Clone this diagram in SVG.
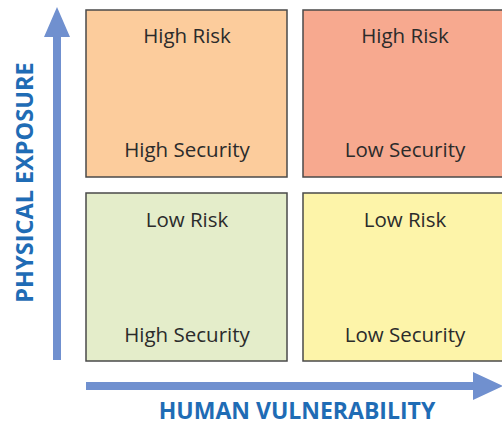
<svg xmlns="http://www.w3.org/2000/svg" width="502" height="425" viewBox="0 0 502 425">
<style>
.cell{stroke:#4a4a4a;stroke-width:1.5}
.t{font-family:"Open Sans","Noto Sans",sans-serif;font-size:20.5px;fill:#2b2b2b;text-anchor:middle}
.ax{font-family:"Open Sans","Noto Sans",sans-serif;font-weight:bold;fill:#1f6cb5;text-anchor:middle}
.arrow{fill:#7090cf}
</style>
<rect width="502" height="425" fill="#fff"/>
<g id="connectors">
<path class="arrow" d="M53,360 L53,37 L44,37 L57,7 L70,37 L61,37 L61,360 Z"/>
<path class="arrow" d="M86,382 L473,382 L473,372 L503,386 L473,400 L473,390 L86,390 Z"/>
</g>
<g id="cell-hh">
<rect class="cell" x="86" y="10" width="201" height="167" fill="#fccc9c"/>
<text class="t" x="187" y="43">High Risk</text>
<text class="t" x="187" y="157">High Security</text>
</g>
<g id="cell-hl">
<rect class="cell" x="303" y="10" width="204" height="167" fill="#f7a98f"/>
<text class="t" x="405" y="43">High Risk</text>
<text class="t" x="405" y="157">Low Security</text>
</g>
<g id="cell-lh">
<rect class="cell" x="86" y="193" width="201" height="168" fill="#e4edca"/>
<text class="t" x="187" y="227">Low Risk</text>
<text class="t" x="187" y="342">High Security</text>
</g>
<g id="cell-ll">
<rect class="cell" x="303" y="193" width="204" height="168" fill="#fdf4a9"/>
<text class="t" x="405" y="227">Low Risk</text>
<text class="t" x="405" y="342">Low Security</text>
</g>
<g id="labels">
<text class="ax" font-size="23" x="297" y="419">HUMAN VULNERABILITY</text>
<text class="ax" font-size="23.5" transform="translate(33,182.5) rotate(-90)">PHYSICAL EXPOSURE</text>
</g>
</svg>
